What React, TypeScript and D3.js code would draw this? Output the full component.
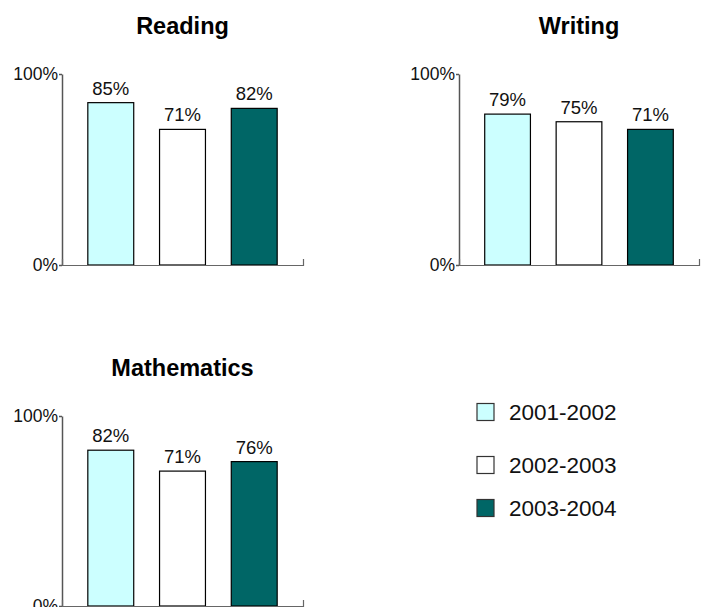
import { useRef, useEffect } from 'react';
import * as d3 from 'd3';

const subjects = ['Reading', 'Writing', 'Mathematics'];
const years = ['2001-2002', '2002-2003', '2003-2004'];
const readingValues = [85, 71, 82];
const writingValues = [79, 75, 71];
const mathValues = [82, 71, 76];
const yTicks = [0, 100];
const colors = ['#CCFFFF', '#FFFFFF', '#006666'];

const App = () => {
    const svgRef = useRef<SVGSVGElement | null>(null);

    useEffect(() => {
        const svgElement = svgRef.current;
        if (!svgElement) return;
        document.body.style.margin = '0';

        const width = 707;
        const height = 607;
        const svg = d3.select(svgElement).attr('width', width).attr('height', height);
        svg.selectAll('*').remove();

        const font = 'Liberation Sans, Arial, sans-serif';

        // one panel per subject
        const panels = [
            { name: subjects[0], values: readingValues, left: 62, right: 303, top: 74, bottom: 265 },
            { name: subjects[1], values: writingValues, left: 459, right: 699, top: 74, bottom: 265 },
            { name: subjects[2], values: mathValues, left: 62, right: 303, top: 416, bottom: 606 },
        ];

        panels.forEach(p => {
            const g = svg.append('g');

            const x = d3.scaleBand<string>()
                .domain(years)
                .range([p.left, p.right])
                .paddingInner(0.36)
                .paddingOuter(0.36);

            const y = d3.scaleLinear()
                .domain([0, 100])
                .range([p.bottom, p.top]);

            // title
            g.append('text')
                .attr('x', (p.left + p.right) / 2)
                .attr('y', p.top - 40)
                .attr('text-anchor', 'middle')
                .style('font-family', font)
                .style('font-weight', 'bold')
                .style('font-size', '23.5px')
                .text(p.name);

            // bars
            g.selectAll('rect.bar')
                .data(p.values)
                .join('rect')
                .attr('class', 'bar')
                .attr('x', (_, i) => x(years[i])!)
                .attr('y', d => y(d))
                .attr('width', x.bandwidth())
                .attr('height', d => y(0) - y(d))
                .attr('fill', (_, i) => colors[i])
                .attr('stroke', '#000')
                .attr('stroke-width', 1.2);

            // value labels
            g.selectAll('text.val')
                .data(p.values)
                .join('text')
                .attr('class', 'val')
                .attr('x', (_, i) => x(years[i])! + x.bandwidth() / 2)
                .attr('y', d => y(d) - 8)
                .attr('text-anchor', 'middle')
                .style('font-family', font)
                .style('font-size', '18.5px')
                .style('fill', '#111')
                .text(d => `${d}%`);

            // y axis
            const yAxis = g.append('g')
                .attr('transform', `translate(${p.left},0)`)
                .call(d3.axisLeft(y)
                    .tickValues(yTicks)
                    .tickSize(3)
                    .tickSizeOuter(0)
                    .tickPadding(1)
                    .tickFormat(d => `${d}%`));

            yAxis.selectAll('path, line')
                .attr('stroke', '#555')
                .attr('stroke-width', 1.5);
            yAxis.selectAll('text')
                .style('font-family', font)
                .style('font-size', '17.5px')
                .attr('fill', '#111');

            // x axis baseline
            const xAxis = g.append('g')
                .attr('transform', `translate(0,${p.bottom})`)
                .call(d3.axisBottom(x)
                    .tickValues([])
                    .tickSizeOuter(-6));

            xAxis.selectAll('path')
                .attr('stroke', '#666')
                .attr('stroke-width', 1.2);
        });

        // legend
        const legend = svg.append('g');
        const legendRows = [412, 465, 508];
        years.forEach((yr, i) => {
            const cy = legendRows[i];
            legend.append('rect')
                .attr('x', 477)
                .attr('y', cy - 8.5)
                .attr('width', 17)
                .attr('height', 17)
                .attr('fill', colors[i])
                .attr('stroke', '#333')
                .attr('stroke-width', 1.2);
            legend.append('text')
                .attr('x', 509)
                .attr('y', cy)
                .attr('dy', '0.36em')
                .style('font-family', font)
                .style('font-size', '22.5px')
                .style('fill', '#111')
                .text(yr);
        });
    }, []);

    return (
        <div style={{ position: 'absolute', left: 0, top: 0 }}>
            <svg ref={svgRef} style={{ display: 'block' }}></svg>
        </div>
    );
};

export default App;
